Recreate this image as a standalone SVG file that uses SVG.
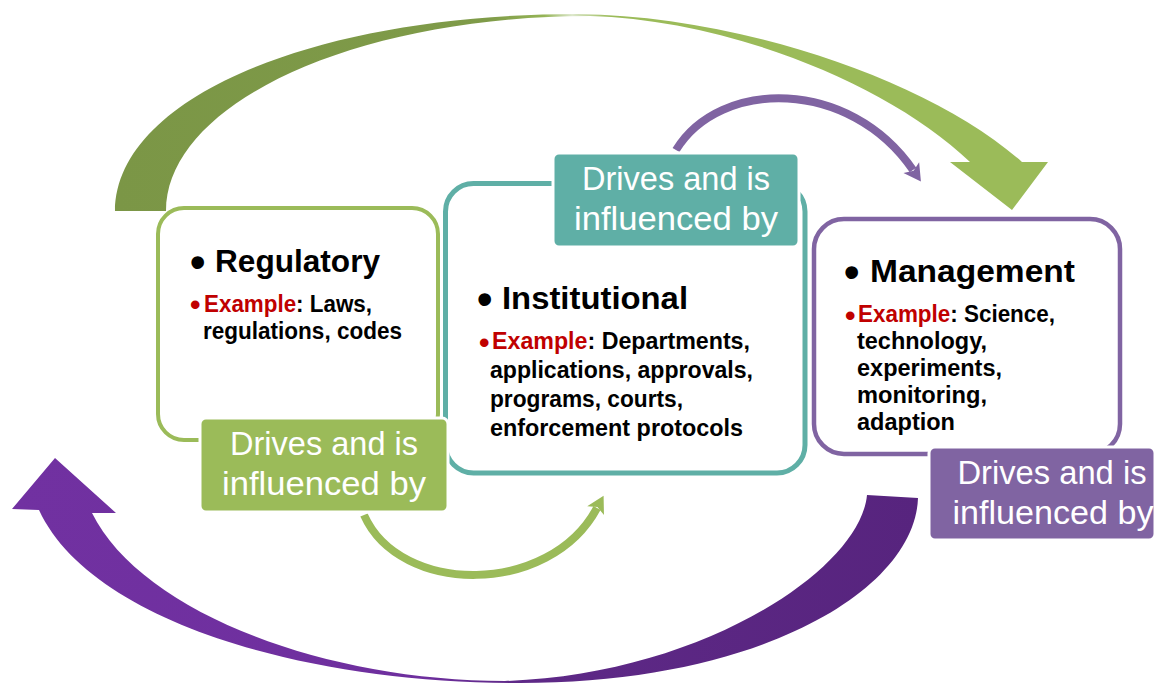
<svg xmlns="http://www.w3.org/2000/svg" width="1165" height="683" viewBox="0 0 1165 683">
  <defs>
    <style>
      .box { fill: #ffffff; }
      .title { font-family: "Liberation Sans", Arial, sans-serif; font-weight: bold; font-size: 32px; fill: #000000; }
      .item { font-family: "Liberation Sans", Arial, sans-serif; font-weight: bold; font-size: 23px; fill: #000000; }
      .red { fill: #C00000; }
      .dot { font-family: "Liberation Sans", Arial, sans-serif; font-weight: bold; font-size: 44px; fill: #000000; }
      .rdot { font-family: "Liberation Sans", Arial, sans-serif; font-weight: bold; font-size: 30px; fill: #C00000; }
      .tag { stroke: #ffffff; stroke-width: 3; }
      .tagtext { font-family: "Liberation Sans", Arial, sans-serif; font-size: 33px; fill: #ffffff; text-anchor: middle; }
      .loop { fill: none; stroke-width: 8; }
    </style>
    <linearGradient id="gradTop" gradientUnits="userSpaceOnUse" x1="115" y1="0" x2="1048" y2="0">
      <stop offset="0" stop-color="#7B9646"/>
      <stop offset="0.40" stop-color="#7F9B49"/>
      <stop offset="0.46" stop-color="#95B456"/>
      <stop offset="0.49" stop-color="#DCE7CB"/>
      <stop offset="0.53" stop-color="#9BBB59"/>
      <stop offset="1" stop-color="#9BBB59"/>
    </linearGradient>
    <linearGradient id="gradBottom" gradientUnits="userSpaceOnUse" x1="12" y1="0" x2="918" y2="0">
      <stop offset="0" stop-color="#7131A1"/>
      <stop offset="0.45" stop-color="#6E2F9E"/>
      <stop offset="0.56" stop-color="#5E2987"/>
      <stop offset="1" stop-color="#57247E"/>
    </linearGradient>
    <marker id="headPurple" markerUnits="userSpaceOnUse" viewBox="-4 -11 22 22" refX="0" refY="0" markerWidth="22" markerHeight="22" orient="auto">
      <path d="M-3,-9.5 L14,0 L-3,9.5 L1,0 Z" fill="#8064A2"/>
    </marker>
    <marker id="headGreen" markerUnits="userSpaceOnUse" viewBox="-4 -11 22 22" refX="0" refY="0" markerWidth="22" markerHeight="22" orient="auto">
      <path d="M-3,-9.5 L14,0 L-3,9.5 L1,0 Z" fill="#9BBB59"/>
    </marker>
  </defs>

  <g id="connectors">
    <!-- large arc over the top: Regulatory to Management -->
    <path id="arc-top" fill="url(#gradTop)"
      d="M115,211 C116,96 318,14 578,14 C740,16 930,80 1022,162 L1048,162 L1012,210 L950,162 L970,162 C890,85 730,20 590,16 C356,16 166,103 166,211 Z"/>
    <!-- large arc along the bottom: Management back to Regulatory -->
    <path id="arc-bottom" fill="url(#gradBottom)"
      d="M918,498 C915,590 760,683 520,683 C300,683 90,620 39,510 L12,509 L55,458 L116,513 L92,513 C140,610 320,681 505,681 C700,675 860,570 867,495 Z"/>
    <!-- small loops between neighbouring layers -->
    <path id="loop-inst-mgmt" class="loop" stroke="#8064A2" marker-end="url(#headPurple)"
      d="M676,150 C720,78 850,78 913,170"/>
    <path id="loop-reg-inst" class="loop" stroke="#9BBB59" marker-end="url(#headGreen)"
      d="M364,515 C400,596 550,596 597,508"/>
  </g>

  <g id="node-regulatory">
    <rect class="box" x="158" y="208" width="280" height="232" rx="26" stroke="#9BBB59" stroke-width="4"/>
    <text class="dot" x="190" y="277">•</text>
    <text class="title" x="215" y="272" textLength="165" lengthAdjust="spacingAndGlyphs">Regulatory</text>
    <text class="rdot" x="190" y="315">•</text>
    <text class="item" x="204" y="312" textLength="168" lengthAdjust="spacingAndGlyphs"><tspan class="red">Example</tspan>: Laws,</text>
    <text class="item" x="203" y="339" textLength="199" lengthAdjust="spacingAndGlyphs">regulations, codes</text>
  </g>

  <g id="node-institutional">
    <rect class="box" x="445.5" y="183.5" width="359.5" height="289.5" rx="28" stroke="#5FAFA6" stroke-width="5"/>
    <text class="dot" x="477" y="314">•</text>
    <text class="title" x="502" y="309" textLength="186" lengthAdjust="spacingAndGlyphs">Institutional</text>
    <text class="rdot" x="479" y="353">•</text>
    <text class="item" x="492" y="349" textLength="258" lengthAdjust="spacingAndGlyphs"><tspan class="red">Example</tspan>: Departments,</text>
    <text class="item" x="490" y="378" textLength="263" lengthAdjust="spacingAndGlyphs">applications, approvals,</text>
    <text class="item" x="490" y="407" textLength="193" lengthAdjust="spacingAndGlyphs">programs, courts,</text>
    <text class="item" x="490" y="436" textLength="253" lengthAdjust="spacingAndGlyphs">enforcement protocols</text>
  </g>

  <g id="node-management">
    <rect class="box" x="814" y="219" width="306" height="235" rx="30" stroke="#8064A2" stroke-width="4.5"/>
    <text class="dot" x="844" y="287">•</text>
    <text class="title" x="870" y="282" textLength="205" lengthAdjust="spacingAndGlyphs">Management</text>
    <text class="rdot" x="845" y="326">•</text>
    <text class="item" x="858" y="322" textLength="197" lengthAdjust="spacingAndGlyphs"><tspan class="red">Example</tspan>: Science,</text>
    <text class="item" x="857" y="349" textLength="130" lengthAdjust="spacingAndGlyphs">technology,</text>
    <text class="item" x="857" y="376" textLength="145" lengthAdjust="spacingAndGlyphs">experiments,</text>
    <text class="item" x="857" y="403" textLength="130" lengthAdjust="spacingAndGlyphs">monitoring,</text>
    <text class="item" x="857" y="430" textLength="98" lengthAdjust="spacingAndGlyphs">adaption</text>
  </g>

  <g id="label-reg-inst">
    <rect class="tag" x="200" y="418" width="248" height="94" rx="6" fill="#9BBB59"/>
    <text class="tagtext" x="324" y="455" textLength="188" lengthAdjust="spacingAndGlyphs">Drives and is</text>
    <text class="tagtext" x="324" y="495" textLength="204" lengthAdjust="spacingAndGlyphs">influenced by</text>
  </g>

  <g id="label-inst-mgmt">
    <rect class="tag" x="553" y="153" width="246" height="94" rx="6" fill="#5FAFA6"/>
    <text class="tagtext" x="676" y="190" textLength="188" lengthAdjust="spacingAndGlyphs">Drives and is</text>
    <text class="tagtext" x="676" y="230" textLength="204" lengthAdjust="spacingAndGlyphs">influenced by</text>
  </g>

  <g id="label-mgmt-reg">
    <rect class="tag" x="929" y="447" width="226" height="93" rx="6" fill="#8064A2"/>
    <text class="tagtext" x="1052" y="484" textLength="189" lengthAdjust="spacingAndGlyphs">Drives and is</text>
    <text class="tagtext" x="1053" y="524" textLength="201" lengthAdjust="spacingAndGlyphs">influenced by</text>
  </g>
</svg>
